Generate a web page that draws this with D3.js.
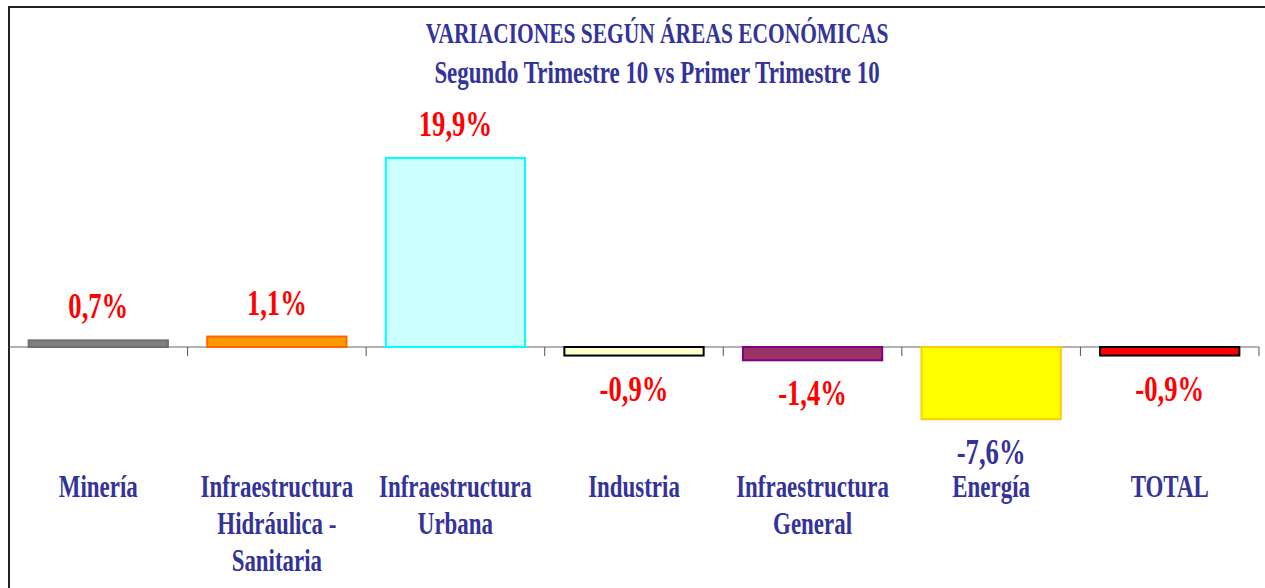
<!DOCTYPE html>
<html>
<head>
<meta charset="utf-8">
<script src="https://cdn.jsdelivr.net/npm/d3@7"></script>
<style>
  body { margin: 0; background: #fff; }
  text { font-family: "Times New Roman", "Liberation Serif", serif; font-weight: bold; }
</style>
</head>
<body>
<div id="chart"></div>
<script>
// data
var categories = ["Minería", "Infraestructura Hidráulica - Sanitaria", "Infraestructura Urbana",
                  "Industria", "Infraestructura General", "Energía", "TOTAL"]
var catLines = [["Minería"], ["Infraestructura", "Hidráulica -", "Sanitaria"], ["Infraestructura", "Urbana"],
                ["Industria"], ["Infraestructura", "General"], ["Energía"], ["TOTAL"]]
var values = [0.7, 1.1, 19.9, -0.9, -1.4, -7.6, -0.9]
var valueLabels = ["0,7%", "1,1%", "19,9%", "-0,9%", "-1,4%", "-7,6%", "-0,9%"]
var titleLines = ["VARIACIONES SEGÚN ÁREAS ECONÓMICAS", "Segundo Trimestre 10 vs Primer Trimestre 10"]

var fills   = ["#808080", "#ff9900", "#ccffff", "#ffffcc", "#993366", "#ffff00", "#ff0000"]
var strokes = ["#707070", "#ff6600", "#00ffff", "#000000", "#800080", "#ffcc00", "#000000"]

var width = 1265, height = 588
var navy = "#333399"
var sx = 0.74   // the original text looks horizontally squeezed

var svg = d3.select("#chart").append("svg")
    .attr("width", width)
    .attr("height", height)

// frame (only top and left edges visible)
svg.append("path")
  .attr("d", "M9,588 V7 H1265")
  .attr("fill", "none")
  .attr("stroke", "#222")
  .attr("stroke-width", 2)

var x = d3.scaleBand()
  .domain(categories)
  .range([9, 1259])
  .paddingInner(0.22)
  .paddingOuter(0.11)

var y = d3.scaleLinear()
  .domain([-8, 20])
  .range([423, 157])

var data = categories.map(function(c, i){
  return {cat: c, value: values[i], label: valueLabels[i], lines: catLines[i], fill: fills[i], stroke: strokes[i]}
})

function squeezed(sel, size){
  return sel.style("font-size", size + "px").attr("text-anchor", "middle")
}

// title
var titleSizes = [29, 31]
titleLines.forEach(function(t, i){
  squeezed(svg.append("text"), titleSizes[i])
    .attr("transform", "translate(657," + (43 + i * 40) + ") scale(" + sx + ",1)")
    .attr("fill", navy)
    .text(t)
})

// axis line and ticks
svg.append("line")
  .attr("x1", 9).attr("x2", 1259)
  .attr("y1", y(0)).attr("y2", y(0))
  .attr("stroke", "#666").attr("stroke-width", 1.2)

var step = x.step()
svg.selectAll("tick")
  .data(d3.range(1, categories.length + 1))
  .enter()
  .append("line")
    .attr("x1", function(i){ return 9 + i * step })
    .attr("x2", function(i){ return 9 + i * step })
    .attr("y1", y(0)).attr("y2", y(0) + 9)
    .attr("stroke", "#555")

// bars
svg.selectAll("bars")
  .data(data)
  .enter()
  .append("rect")
    .attr("x", function(d){ return x(d.cat) })
    .attr("width", x.bandwidth())
    .attr("y", function(d){ return Math.min(y(d.value), y(0)) })
    .attr("height", function(d){ return Math.abs(y(d.value) - y(0)) })
    .attr("fill", function(d){ return d.fill })
    .attr("stroke", function(d){ return d.stroke })
    .attr("stroke-width", 2)

// value labels
svg.selectAll("vlabels")
  .data(data)
  .enter()
  .append("text")
    .style("font-size", "36px")
    .attr("text-anchor", "middle")
    .attr("fill", function(d){ return d.cat == "Energía" ? navy : "#ff0000" })
    .attr("transform", function(d){
      var cx = x(d.cat) + x.bandwidth() / 2
      var yy = d.value >= 0 ? y(d.value) - 22 : y(d.value) + 45
      return "translate(" + cx + "," + yy + ") scale(" + sx + ",1)"
    })
    .text(function(d){ return d.label })

// category labels
data.forEach(function(d){
  var cx = x(d.cat) + x.bandwidth() / 2
  d.lines.forEach(function(line, j){
    squeezed(svg.append("text"), 31)
      .attr("transform", "translate(" + cx + "," + (497 + j * 37) + ") scale(" + sx + ",1)")
      .attr("fill", navy)
      .text(line)
  })
})
</script>
</body>
</html>
